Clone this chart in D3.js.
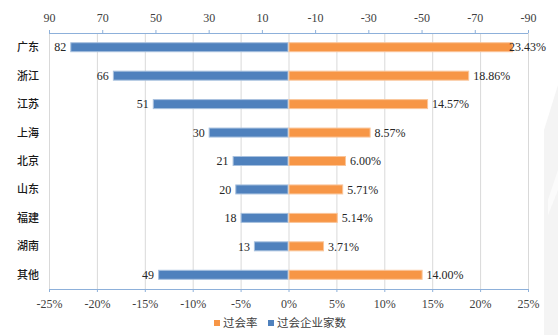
<!DOCTYPE html>
<html>
<head>
<meta charset="utf-8">
<script src="https://cdn.jsdelivr.net/npm/d3@7"></script>
<style>
  html, body { margin: 0; padding: 0; background: #fff; }
  svg { display: block; }
</style>
</head>
<body>
<svg id="chart" width="558" height="335"></svg>
<script>
// Regions, number of approved companies, and approval rate (%)
const categories = ["广东", "浙江", "江苏", "上海", "北京", "山东", "福建", "湖南", "其他"];
const counts = [82, 66, 51, 30, 21, 20, 18, 13, 49];
const rates = [23.43, 18.86, 14.57, 8.57, 6.00, 5.71, 5.14, 3.71, 14.00];

const countTicks = [90, 70, 50, 30, 10, -10, -30, -50, -70, -90];
const rateTicks = [-25, -20, -15, -10, -5, 0, 5, 10, 15, 20, 25];
const legendLabels = ["过会率", "过会企业家数"];

const W = 558, H = 335;
const plot = { left: 49, right: 528, top: 33, bottom: 289 };

const svg = d3.select("#chart");

const BLUE = "#4F81BD", ORANGE = "#F79646";
const serif = "'Liberation Serif', 'Times New Roman', serif";
const cjk = "'Noto Sans CJK SC', 'Noto Sans', sans-serif";

// faint decorative stripes along the right edge
const deco = svg.append("g");
deco.append("path").attr("d", "M558,85 L544,130 L544,335 L558,335 Z").attr("fill", "#f4f4f4");
deco.append("path").attr("d", "M558,170 L548,200 L548,215 L558,190 Z").attr("fill", "#fbfbfb");

// scales: counts on top (reversed, 90 at left), rate on bottom
const xCount = d3.scaleLinear().domain([90, -90]).range([plot.left, plot.right]);
const xRate = d3.scaleLinear().domain([-25, 25]).range([plot.left, plot.right]);
const y = d3.scaleBand().domain(categories).range([plot.top, plot.bottom]).padding(0);
const barH = 10;

// vertical gridlines every 5%
svg.append("g").selectAll("line")
  .data(rateTicks)
  .join("line")
  .attr("x1", d => xRate(d) + 0.5).attr("x2", d => xRate(d) + 0.5)
  .attr("y1", plot.top).attr("y2", plot.bottom)
  .attr("stroke", "#D9D9D9").attr("stroke-width", 1);

// top axis (counts), plain hyphen minus signs
const topAxis = svg.append("g").attr("transform", `translate(0,${plot.top})`);
topAxis.call(d3.axisTop(xCount)
  .tickValues(d3.range(-90, 90.01, 4))
  .tickSize(3).tickFormat(""));
topAxis.call(d3.axisTop(xCount).tickValues(countTicks).tickSize(3).tickFormat(d => String(d)).tickPadding(8));
topAxis.selectAll(".domain").attr("stroke", "#8DB0DA").attr("d", `M${plot.left},0.5H${plot.right}`);
topAxis.selectAll(".tick line").attr("stroke", "#8DB0DA");
topAxis.selectAll("text").attr("font-family", serif).attr("font-size", 12).attr("fill", "#404040");

// bottom axis (rate)
const botAxis = svg.append("g").attr("transform", `translate(0,${plot.bottom})`);
botAxis.call(d3.axisBottom(xRate)
  .tickValues(d3.range(-25, 25.01, 1))
  .tickSize(3).tickFormat(""));
botAxis.call(d3.axisBottom(xRate).tickValues(rateTicks).tickSize(3).tickFormat(d => String(d) + "%").tickPadding(7));
botAxis.selectAll(".domain").attr("stroke", "#8DB0DA").attr("d", `M${plot.left},0.5H${plot.right}`);
botAxis.selectAll(".tick line").attr("stroke", "#8DB0DA");
botAxis.selectAll("text").attr("font-family", serif).attr("font-size", 12).attr("fill", "#404040");

const rows = categories.map((c, i) => ({ c, n: counts[i], r: rates[i] }));
const cy = d => y(d.c) + y.bandwidth() / 2;

// count bars (left of zero)
svg.append("g").selectAll("rect")
  .data(rows)
  .join("rect")
  .attr("x", d => xCount(d.n) + 0.5)
  .attr("y", d => cy(d) - barH / 2 + 0.5)
  .attr("width", d => xCount(0) - xCount(d.n) - 1)
  .attr("height", barH - 1)
  .attr("fill", BLUE)
  .attr("stroke", "#A7C0DE").attr("stroke-width", 1);

// rate bars (right of zero)
svg.append("g").selectAll("rect")
  .data(rows)
  .join("rect")
  .attr("x", d => xRate(0) + 0.5)
  .attr("y", d => cy(d) - barH / 2 + 0.5)
  .attr("width", d => xRate(d.r) - xRate(0) - 1)
  .attr("height", barH - 1)
  .attr("fill", ORANGE)
  .attr("stroke", "#FAC59A").attr("stroke-width", 1);

// count labels
svg.append("g").selectAll("text")
  .data(rows)
  .join("text")
  .attr("x", d => xCount(d.n) - 4)
  .attr("y", d => cy(d))
  .attr("dy", "0.35em")
  .attr("text-anchor", "end")
  .attr("font-family", serif).attr("font-size", 12).attr("fill", "#262626")
  .text(d => d.n);

// rate labels, kept inside the chart's right margin
svg.append("g").selectAll("text")
  .data(rows)
  .join("text")
  .attr("y", d => cy(d))
  .attr("dy", "0.35em")
  .attr("font-family", serif).attr("font-size", 12).attr("fill", "#262626")
  .text(d => d.r.toFixed(2) + "%")
  .each(function (d) {
    const w = this.getComputedTextLength();
    const x = Math.min(xRate(d.r) + 4, 546 - w);
    d3.select(this).attr("x", x);
  });

// category labels
svg.append("g").selectAll("text")
  .data(rows)
  .join("text")
  .attr("x", 39)
  .attr("y", d => cy(d))
  .attr("dy", "0.36em")
  .attr("text-anchor", "end")
  .attr("font-family", cjk).attr("font-size", 11).attr("font-weight", 500).attr("fill", "#1a1a1a")
  .text(d => d.c);

// legend
const legend = svg.append("g").attr("transform", "translate(0,323)");
const items = [
  { label: legendLabels[0], color: ORANGE, x: 214 },
  { label: legendLabels[1], color: BLUE, x: 268 }
];
items.forEach(it => {
  legend.append("rect").attr("x", it.x).attr("y", -3).attr("width", 6).attr("height", 6).attr("fill", it.color);
  legend.append("text").attr("x", it.x + 9).attr("y", 0).attr("dy", "0.36em")
    .attr("font-family", cjk).attr("font-size", 11.5).attr("fill", "#404040")
    .text(it.label);
});
</script>
</body>
</html>
